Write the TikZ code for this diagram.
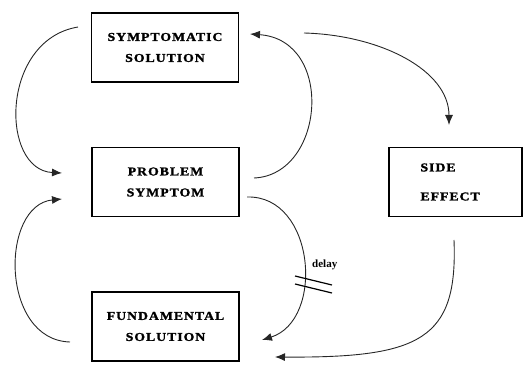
\documentclass[tikz,border=0pt]{standalone}
\usepackage{fontspec}
\setmainfont{Liberation Serif}
\newfontfamily\boxfont[LetterSpace=8,FakeStretch=1.15,FakeBold=1.5]{Liberation Serif Bold}
\usetikzlibrary{arrows.meta}
\tikzset{
  boxnode/.style={draw, line width=1.8pt, minimum width=147pt, minimum height=69pt,
    align=center, font=\boxfont\fontsize{12}{21}\selectfont, inner sep=0pt},
  link/.style={line width=0.9pt, draw=black!85, -{Latex[length=10pt,width=8pt]}},
  delaymark/.style={line width=1.2pt}
}
\begin{document}
\begin{tikzpicture}[x=1pt,y=-1pt]
\useasboundingbox (0,0) rectangle (525,366);
\node[boxnode] (ss) at (165,47.5) {SYMPTOMATIC\\SOLUTION};
\node[boxnode] (ps) at (165.5,182) {PROBLEM\\SYMPTOM};
\node[boxnode] (fs) at (165.5,326.5) {FUNDAMENTAL\\SOLUTION};
\node[boxnode, minimum width=133pt, text width=70pt, align=left, inner xsep=31pt,
  font=\boxfont\fontsize{12}{29}\selectfont] (se) at (455.5,182) {SIDE\\EFFECT};
% connector end points
\coordinate (a1) at (78,27);   \coordinate (a2) at (62,173);
\coordinate (b1) at (254,178); \coordinate (b2) at (250,34);
\coordinate (c1) at (304,33);  \coordinate (c2) at (449,125);
\coordinate (d1) at (454,240); \coordinate (d2) at (275,357);
\coordinate (e1) at (247,197); \coordinate (e2) at (262,340);
\coordinate (f1) at (70,342);  \coordinate (f2) at (62,199);
\draw[link] (a1) .. controls (0,40) and (0,170) .. (a2);
\draw[link] (b1) .. controls (325,175) and (335,40) .. (b2);
\draw[link] (c1) .. controls (380,35) and (449,70) .. (c2);
\draw[link] (d1) .. controls (458,340) and (420,358) .. (d2);
\draw[link] (e1) .. controls (315,195) and (325,320) .. (e2);
\draw[link] (f1) .. controls (0,340) and (0,205) .. (f2);
% delay marks
\coordinate (m1) at (295,276); \coordinate (m2) at (332,285);
\coordinate (m3) at (295,284); \coordinate (m4) at (332,293);
\draw[delaymark] (m1) -- (m2);
\draw[delaymark] (m3) -- (m4);
\node[font=\bfseries\fontsize{11}{12}\selectfont, anchor=west, inner sep=0pt] (dl) at (312,265) {delay};
\end{tikzpicture}
\end{document}
